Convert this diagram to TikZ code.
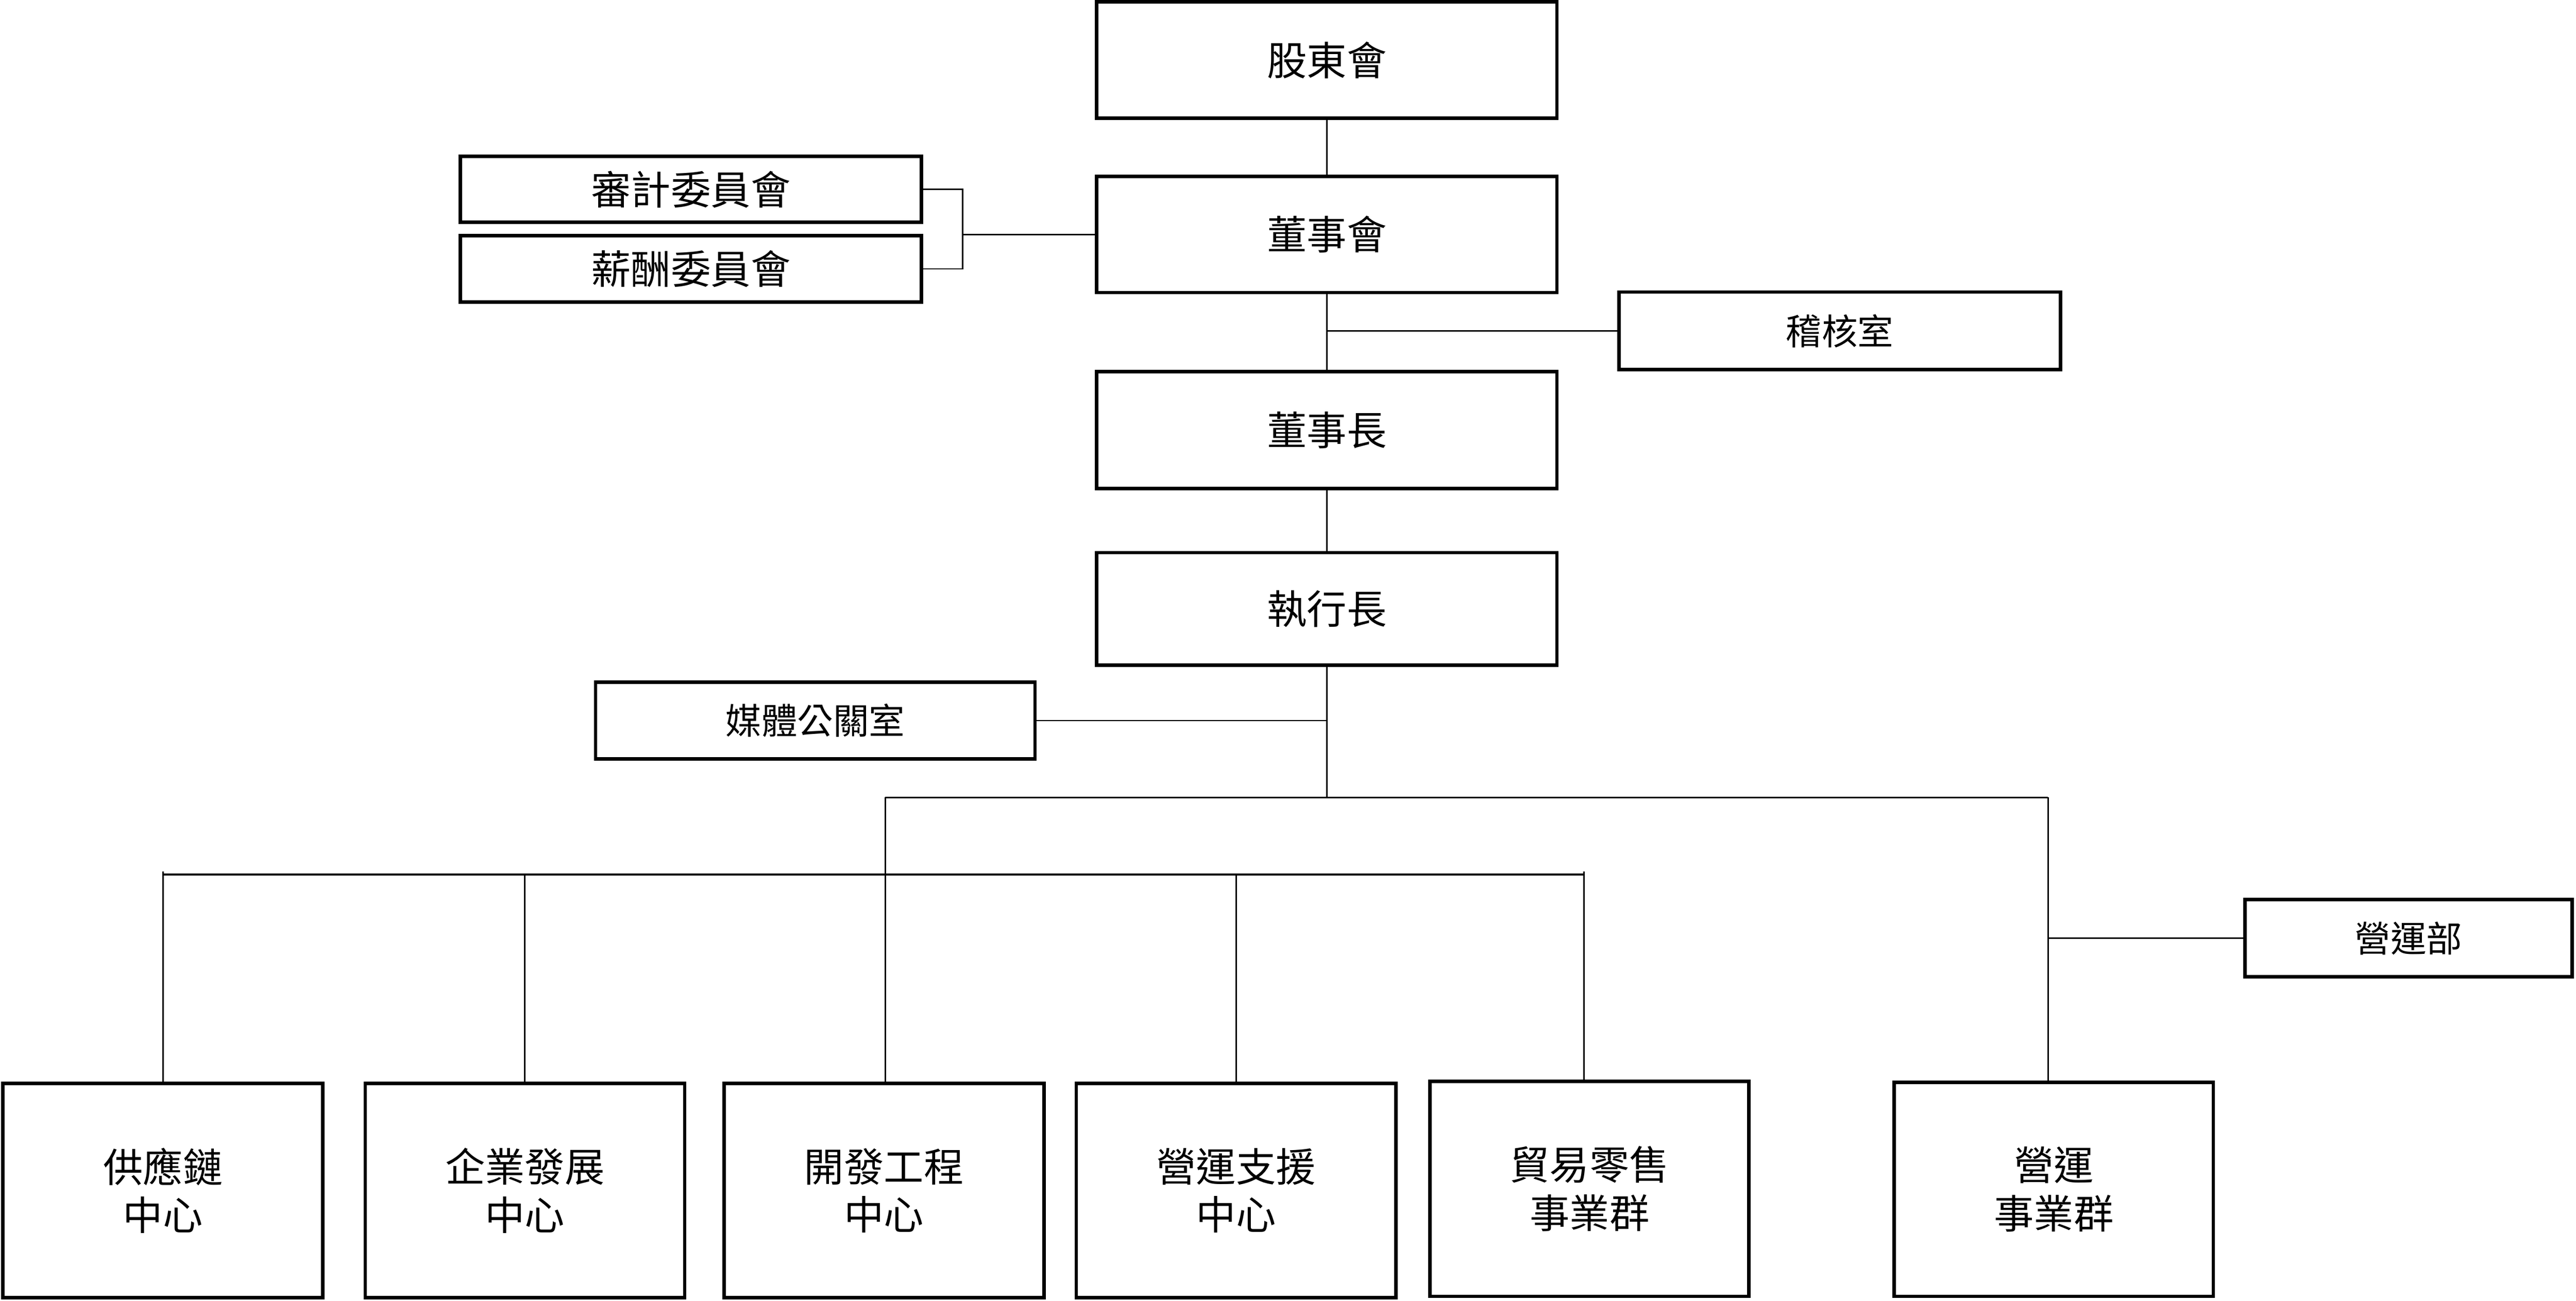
\documentclass[tikz,border=0pt]{standalone}
\usepackage{fontspec}
\newfontfamily\cjk{Noto Sans CJK TC}
\usetikzlibrary{calc}
\tikzset{
  box/.style={draw=black, line width=0.07cm, fill=white, inner sep=0pt, outer sep=0pt,
    align=center, font=\cjk\fontsize{22.8}{27.6}\selectfont},
  smallbox/.style={box, font=\cjk\fontsize{20.5}{24}\selectfont},
  link/.style={draw=black, line width=0.03cm},
}
\begin{document}
\begin{tikzpicture}[x=1cm,y=1cm]
\useasboundingbox (0,0) rectangle (51.77,-26.15);
% top column
\node[box, minimum width=9.25cm, minimum height=2.34cm] (sh) at (26.665,-1.21) {股東會};
\node[box, minimum width=9.25cm, minimum height=2.33cm] (bd) at (26.665,-4.715) {董事會};
\node[box, minimum width=9.25cm, minimum height=2.35cm] (ch) at (26.665,-8.645) {董事長};
\node[box, minimum width=9.25cm, minimum height=2.26cm] (ceo) at (26.665,-12.24) {執行長};
% committees
\node[box, minimum width=9.27cm, minimum height=1.33cm] (audit) at (13.885,-3.805) {審計委員會};
\node[box, minimum width=9.27cm, minimum height=1.33cm] (pay) at (13.885,-5.405) {薪酬委員會};
% side offices
\node[smallbox, minimum width=8.87cm, minimum height=1.56cm] (ia) at (36.975,-6.65) {稽核室};
\node[smallbox, minimum width=8.83cm, minimum height=1.55cm] (pr) at (16.385,-14.485) {媒體公關室};
\node[smallbox, minimum width=6.57cm, minimum height=1.56cm] (opd) at (48.405,-18.86) {營運部};
% bottom row
\node[box, minimum width=6.43cm, minimum height=4.31cm] (b1) at (3.275,-23.935) {供應鏈\\中心};
\node[box, minimum width=6.42cm, minimum height=4.31cm] (b2) at (10.55,-23.935) {企業發展\\中心};
\node[box, minimum width=6.43cm, minimum height=4.31cm] (b3) at (17.765,-23.935) {開發工程\\中心};
\node[box, minimum width=6.42cm, minimum height=4.31cm] (b4) at (24.84,-23.935) {營運支援\\中心};
\node[box, minimum width=6.41cm, minimum height=4.32cm] (b5) at (31.945,-23.90) {貿易零售\\事業群};
\node[box, minimum width=6.41cm, minimum height=4.30cm] (b6) at (41.275,-23.91) {營運\\事業群};
% junction coordinates
\coordinate (brk) at (19.35,-3.805);
\coordinate (bus1L) at (17.79,-16.03);
\coordinate (bus1R) at (41.16,-16.03);
\coordinate (bus2L) at (3.28,-17.58);
\coordinate (bus2R) at (31.83,-17.58);
% connectors
\draw[link] (sh.south) -- (bd.north);
\draw[link] (bd.south) -- (ch.north);
\draw[link] (bd.south |- ia.west) -- (ia.west);
\draw[link] (ch.south) -- (ceo.north);
\draw[link] (audit.east) -- (brk) |- (pay.east);
\draw[link] (bd.west) -- (bd.west -| brk);
\draw[link] (ceo.south) -- (ceo.south |- bus1L);
\draw[link] (pr.east) -- (pr.east -| ceo.south);
\draw[link] (bus1L) -- (bus1R);
\draw[link] (bus1L) -- (bus1L |- b3.north);
\draw[link] (bus1R) -- (bus1R |- b6.north);
\draw[link] (bus1R |- opd.west) -- (opd.west);
\draw[line width=0.04cm] (bus2L) -- (bus2R);
\draw[link] ([yshift=0.06cm]bus2L) -- (bus2L |- b1.north);
\draw[link] (b2.north |- bus2L) -- (b2.north);
\draw[link] (b4.north |- bus2L) -- (b4.north);
\draw[link] ([yshift=0.06cm]bus2R) -- (bus2R |- b5.north);
\end{tikzpicture}
\end{document}
